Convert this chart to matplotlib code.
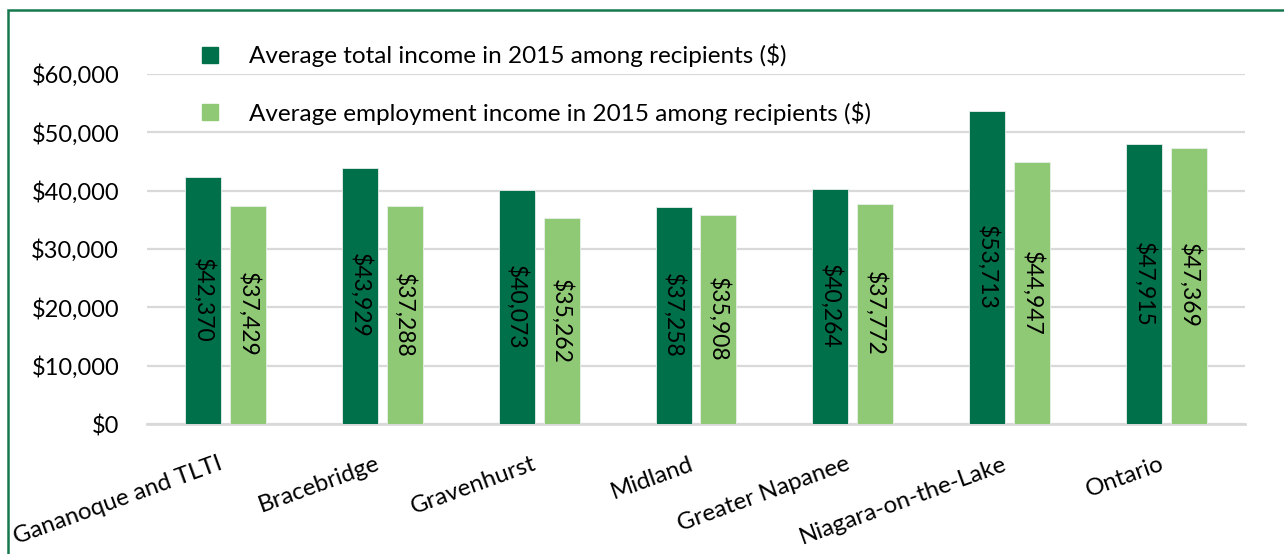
import matplotlib
matplotlib.use("Agg")
import matplotlib.pyplot as plt
import matplotlib.patches as mpatches
import numpy as np

categories = ["Gananoque and TLTI", "Bracebridge", "Gravenhurst", "Midland",
              "Greater Napanee", "Niagara-on-the-Lake", "Ontario"]
total_income = [42370, 43929, 40073, 37258, 40264, 53713, 47915]
employment_income = [37429, 37288, 35262, 35908, 37772, 44947, 47369]
series_names = ["Average total income in 2015 among recipients ($)",
                "Average employment income in 2015 among recipients ($)"]
yticks = [0, 10000, 20000, 30000, 40000, 50000, 60000]

DARK = "#00704A"
LIGHT = "#8FC975"
GRID = "#D9D9D9"
FONT = "Lato"

plt.rcParams['font.family'] = [FONT, 'DejaVu Sans']

fig = plt.figure(figsize=(12.84, 5.54), dpi=100)
ax = fig.add_axes([147/1284, 1-424/554, (1245-147)/1284, (424-74)/554])

x = np.arange(len(categories))
w = 0.23
off = 0.143
b1 = ax.bar(x - off, total_income, w, color=DARK, edgecolor="#E8F0EA", linewidth=0.6, zorder=3)
b2 = ax.bar(x + off, employment_income, w, color=LIGHT, edgecolor="#E8F0EA", linewidth=0.6, zorder=3)

for bars, vals in ((b1, total_income), (b2, employment_income)):
    for r, v in zip(bars, vals):
        ax.text(r.get_x() + r.get_width()/2, v/2, f"${v:,}", rotation=-90,
                ha="center", va="center", fontsize=16.5, color="black", zorder=4)

ax.set_xlim(-0.5, len(categories) - 0.5)
ax.set_ylim(0, 60000)
ax.set_yticks(yticks)
ax.set_yticklabels([f"${v:,}" for v in yticks], fontsize=17)
ax.yaxis.grid(True, color=GRID, linewidth=1.6, zorder=0)
ax.set_axisbelow(True)
ax.tick_params(axis="y", length=0, pad=20)
ax.tick_params(axis="x", length=0, pad=21)
ax.set_xticks(x)
ax.set_xticklabels(categories, rotation=20, ha="right", fontsize=17.3)
for s in ["top", "right", "left"]:
    ax.spines[s].set_visible(False)
ax.spines["bottom"].set_color(GRID)
ax.spines["bottom"].set_linewidth(2)

handles = [mpatches.Patch(color=DARK), mpatches.Patch(color=LIGHT)]
fig.legend(handles, series_names, loc="upper left",
           bbox_to_anchor=(180/1284, 1-22/554), frameon=False, fontsize=17.5,
           handlelength=0.65, handleheight=0.65, handletextpad=1.3, labelspacing=1.4)

# outer frame
fig.patches.append(mpatches.Rectangle((8/1284, -0.2), 1.2, 1 - 10/554 + 0.2,
                                      transform=fig.transFigure, fill=False,
                                      edgecolor="#17784E", linewidth=1.8))

fig.savefig("out.png", dpi=100)
